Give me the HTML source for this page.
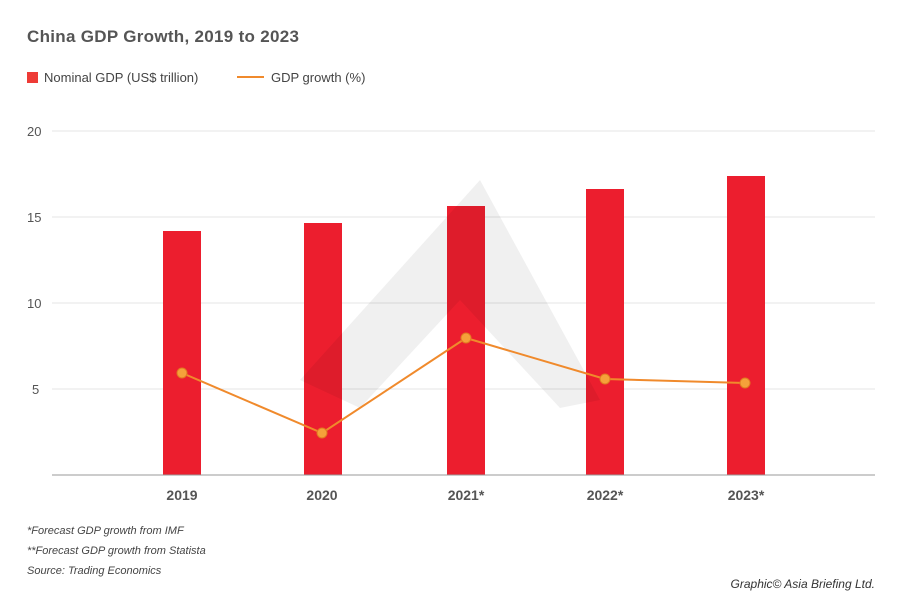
<!DOCTYPE html>
<html><head><meta charset="utf-8"><style>
body{margin:0;background:#fff;}
svg{display:block;font-family:"Liberation Sans",sans-serif;}
</style></head><body>
<svg width="900" height="615" viewBox="0 0 900 615" xmlns="http://www.w3.org/2000/svg">
<rect width="900" height="615" fill="#fff"/>
<text x="27" y="42" font-size="17" font-weight="bold" fill="#555" textLength="272">China GDP Growth, 2019 to 2023</text>
<rect x="27" y="72" width="11" height="11" fill="#ee3b36"/>
<text x="44" y="82" font-size="13" fill="#444">Nominal GDP (US$ trillion)</text>
<line x1="237" y1="77" x2="264" y2="77" stroke="#f08a2c" stroke-width="2"/>
<text x="271" y="82" font-size="13" fill="#444">GDP growth (%)</text>
<g stroke="#e4e4e4" stroke-width="1">
<line x1="52" y1="131" x2="875" y2="131"/>
<line x1="52" y1="217" x2="875" y2="217"/>
<line x1="52" y1="303" x2="875" y2="303"/>
<line x1="52" y1="389" x2="875" y2="389"/>
</g>
<g font-size="13" fill="#555">
<text x="27" y="136">20</text><text x="27" y="222">15</text><text x="27" y="308">10</text><text x="32" y="394">5</text>
</g>
<g fill="#ec1e2e">
<rect x="163" y="231" width="38" height="244"/>
<rect x="304" y="223" width="38" height="252"/>
<rect x="447" y="206" width="38" height="269"/>
<rect x="586" y="189" width="38" height="286"/>
<rect x="727" y="176" width="38" height="299"/>
</g>
<polygon points="300,380 480,180 600,400 560,408 460,300 360,408" fill="#000" opacity="0.06"/>
<line x1="52" y1="475" x2="875" y2="475" stroke="#999" stroke-width="1"/>
<polyline points="182,373 322,433 466,338 605,379 745,383" fill="none" stroke="#f08a2c" stroke-width="2"/>
<g fill="#f5a13a" stroke="#e07a20" stroke-width="1">
<circle cx="182" cy="373" r="5"/><circle cx="322" cy="433" r="5"/><circle cx="466" cy="338" r="5"/><circle cx="605" cy="379" r="5"/><circle cx="745" cy="383" r="5"/>
</g>
<g font-size="14" font-weight="bold" fill="#555" text-anchor="middle">
<text x="182" y="500">2019</text><text x="322" y="500">2020</text><text x="466" y="500">2021*</text><text x="605" y="500">2022*</text><text x="746" y="500">2023*</text>
</g>
<g font-size="11" font-style="italic" fill="#444">
<text x="27" y="534">*Forecast GDP growth from IMF</text>
<text x="27" y="554">**Forecast GDP growth from Statista</text>
<text x="27" y="574">Source: Trading Economics</text>
</g>
<text x="875" y="588" font-size="12" font-style="italic" fill="#333" text-anchor="end">Graphic© Asia Briefing Ltd.</text>
</svg>
</body></html>
